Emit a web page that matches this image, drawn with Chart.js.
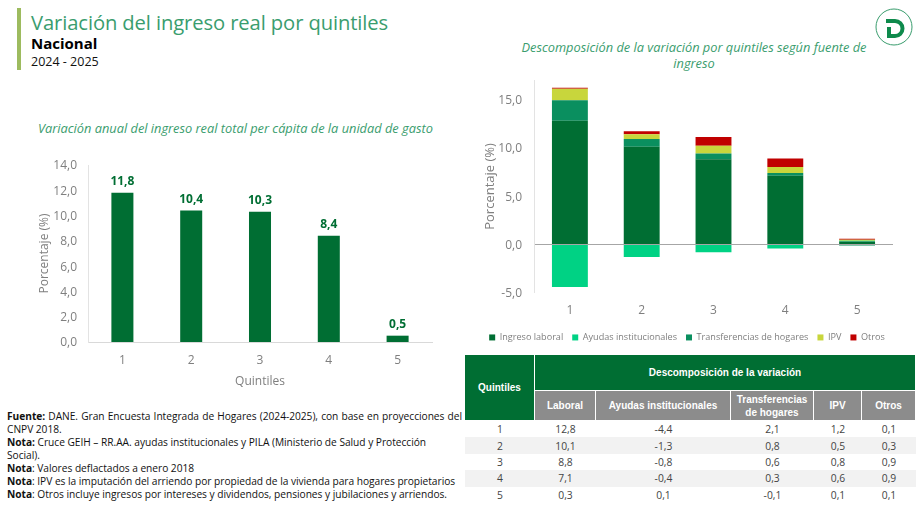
<!DOCTYPE html>
<html lang="es">
<head>
<meta charset="utf-8">
<title>Variación del ingreso real por quintiles</title>
<script src="https://cdn.jsdelivr.net/npm/chart.js@4"></script>
<style>
html, body { margin: 0; padding: 0; background: #fff; }
body { width: 921px; height: 511px; position: relative; overflow: hidden; font-family: "Open Sans", sans-serif; }
.abs { position: absolute; white-space: nowrap; }
canvas { position: absolute; }
#bar { left: 17px; top: 8px; width: 4px; height: 62px; background: #9dbb5f; }
#title { left: 31px; top: 8px; font-size: 20.2px; line-height: 28px; color: #3a9d6e; letter-spacing: -0.1px; }
#sub { left: 31px; top: 33px; font-size: 15px; line-height: 20px; font-weight: 700; color: #000; }
#years { left: 31px; top: 53px; font-size: 12.5px; line-height: 17px; color: #111; }
.ctitle { font-style: italic; color: #3a9d6e; font-size: 12.8px; line-height: 16px; text-align: center; }
#t1 { left: 38px; top: 120px; }
#t2 { left: 505px; top: 39px; width: 378px; white-space: normal; }
#logo { left: 875px; top: 8px; }
#notes { position: absolute; left: 7px; top: 410px; width: 455px; font-size: 10.2px; line-height: 12.95px; color: #111; white-space: nowrap; letter-spacing: -0.03px; }
#notes .j { text-align: justify; text-align-last: justify; }
table { position: absolute; left: 465px; top: 355px; width: 451px; border-collapse: separate; border-spacing: 0; table-layout: fixed; font-size: 10.3px; }
th { font-family: "Liberation Sans", sans-serif; font-weight: 700; color: #fff; font-size: 10px; padding: 0; border: 1px solid #fff; border-top: 0; border-left: 0; }
th.top { background: #006e33; height: 35px; }
th.sub { background: #8c8c8c; height: 29px; line-height: 13px; }
td { text-align: center; color: #444; height: 16.4px; padding: 0; line-height: 16px; }
tr.z td { background: #f2f2f2; }
</style>
</head>
<body>
<div id="bar" class="abs"></div>
<div id="title" class="abs">Variación del ingreso real por quintiles</div>
<div id="sub" class="abs">Nacional</div>
<div id="years" class="abs">2024 - 2025</div>
<svg id="logo" class="abs" width="38" height="38" viewBox="0 0 38 38">
  <circle cx="19" cy="19" r="18" fill="#fff" stroke="#3a9d6e" stroke-width="1"/>
  <path d="M11 13 H20 a7 7 0 0 1 0 15 H14 V19" fill="none" stroke="#0e8a4c" stroke-width="4"/>
</svg>
<div id="t1" class="abs ctitle">Variación anual del ingreso real total per cápita de la unidad de gasto</div>
<div id="t2" class="abs ctitle">Descomposición de la variación por quintiles según fuente de<br>ingreso</div>
<canvas id="chartTotal" width="425" height="243" style="left:20px;top:150px;width:425px;height:243px"></canvas>
<canvas id="chartParts" width="434" height="280" style="left:470px;top:72px;width:434px;height:280px"></canvas>
<table id="tabla">
  <colgroup><col style="width:70px"><col style="width:61px"><col style="width:135px"><col style="width:83px"><col style="width:48px"><col style="width:54px"></colgroup>
  <thead id="tablaHead"></thead>
  <tbody id="tablaBody"></tbody>
</table>
<div id="notes">
  <div class="j"><b>Fuente:</b> DANE. Gran Encuesta Integrada de Hogares (2024-2025), con base en proyecciones del</div>
  <div>CNPV 2018.</div>
  <div><b>Nota:</b> Cruce GEIH – RR.AA. ayudas institucionales y PILA (Ministerio de Salud y Protección</div>
  <div>Social).</div>
  <div><b>Nota</b>: Valores deflactados a enero 2018</div>
  <div><b>Nota</b>: IPV es la imputación del arriendo por propiedad de la vivienda para hogares propietarios</div>
  <div><b>Nota</b>: Otros incluye ingresos por intereses y dividendos, pensiones y jubilaciones y arriendos.</div>
</div>
<script>
const quintiles = ["1", "2", "3", "4", "5"];
const totalValues = [11.8, 10.4, 10.3, 8.4, 0.5];
const laboral = [12.8, 10.1, 8.8, 7.1, 0.3];
const ayudas = [-4.4, -1.3, -0.8, -0.4, 0.1];
const transferencias = [2.1, 0.8, 0.6, 0.3, -0.1];
const ipv = [1.2, 0.5, 0.8, 0.6, 0.1];
const otros = [0.1, 0.3, 0.9, 0.9, 0.1];
const partsTicks = [-5, 0, 5, 10, 15];

const FONT = '"Open Sans", sans-serif';
const GREY = "#7f7f7f";
const DARK_GREEN = "#006e33";

function comma(v) {
    return v.toFixed(1).replace(".", ",");
}

// fixed width for the y axis, and no extra room for its labels at the ends
function fitYAxis(scale, width) {
    scale.width = width;
    scale.paddingTop = 0;
    scale.paddingBottom = 0;
}

// the only plugin available offline, draws the value above each bar
const valueLabels = {
    id: "valueLabels",
    afterDatasetsDraw(chart) {
        const ctx = chart.ctx;
        const meta = chart.getDatasetMeta(0);
        ctx.save();
        ctx.font = "700 12px " + FONT;
        ctx.fillStyle = DARK_GREEN;
        ctx.textAlign = "center";
        meta.data.forEach((bar, i) => {
            ctx.fillText(comma(totalValues[i]), bar.x, bar.y - 8);
        });
        ctx.restore();
    }
};

new Chart(document.getElementById("chartTotal"), {
    type: "bar",
    data: {
        labels: quintiles,
        datasets: [{ data: totalValues, backgroundColor: DARK_GREEN, barPercentage: 0.32, categoryPercentage: 1 }]
    },
    options: {
        responsive: false,
        animation: false,
        layout: { padding: { top: 15, right: 13, left: 0, bottom: 0 } },
        plugins: { legend: { display: false }, tooltip: { enabled: false } },
        scales: {
            x: {
                afterFit: s => { s.height = 51; },
                grid: { display: false, drawTicks: false },
                border: { color: "#d9d9d9" },
                ticks: { color: GREY, font: { family: FONT, size: 12 }, padding: 11 },
                title: { display: true, text: "Quintiles", color: GREY, font: { family: FONT, size: 12 }, padding: { top: 2 } }
            },
            y: {
                min: 0, max: 14,
                afterFit: s => fitYAxis(s, 68),
                grid: { display: false, drawTicks: false },
                border: { color: "#e3e3e3" },
                ticks: { stepSize: 2, color: GREY, font: { family: FONT, size: 12 }, padding: 11, labelOffset: 1, callback: v => comma(v) },
                title: { display: true, text: "Porcentaje (%)", color: GREY, font: { family: FONT, size: 12 }, padding: { top: 17 } }
            }
        }
    },
    plugins: [valueLabels]
});

const partSeries = [
    ["Ingreso laboral", laboral, "#006e33"],
    ["Ayudas institucionales", ayudas, "#00d284"],
    ["Transferencias de hogares", transferencias, "#0a8f5f"],
    ["IPV", ipv, "#c8d63c"],
    ["Otros", otros, "#c00000"]
];

new Chart(document.getElementById("chartParts"), {
    type: "bar",
    data: {
        labels: quintiles,
        datasets: partSeries.map(s => ({
            label: s[0], data: s[1], backgroundColor: s[2], barPercentage: 0.5, categoryPercentage: 1
        }))
    },
    options: {
        responsive: false,
        animation: false,
        layout: { padding: { top: 8, right: 0, left: 0, bottom: 0 } },
        plugins: {
            tooltip: { enabled: false },
            legend: {
                position: "bottom",
                labels: { boxWidth: 6, boxHeight: 6, padding: 9, color: GREY, font: { family: FONT, size: 9.1 } }
            }
        },
        scales: {
            x: {
                stacked: true,
                // right gap on the axis, not the layout, so the legend stays centred on the canvas
                afterFit: s => { s.height = 31; s.paddingRight = 11; },
                grid: { display: false, drawTicks: false },
                border: { display: false },
                ticks: { color: GREY, font: { family: FONT, size: 12 }, padding: 10 }
            },
            y: {
                stacked: true,
                min: -5, max: 17,
                afterFit: s => fitYAxis(s, 64),
                afterBuildTicks: s => { s.ticks = partsTicks.map(v => ({ value: v })); },
                grid: {
                    drawTicks: false,
                    color: c => (c.tick && c.tick.value === 0 ? "#a6a6a6" : "transparent")
                },
                border: { color: "#e3e3e3" },
                ticks: { color: GREY, font: { family: FONT, size: 12 }, padding: 12, labelOffset: 1, callback: v => comma(v) },
                title: { display: true, text: "Porcentaje (%)", color: GREY, font: { family: FONT, size: 13 }, padding: { top: 12 } }
            }
        }
    }
});

// tabla
const tablaHeaders = ["Laboral", "Ayudas institucionales", "Transferencias<br>de hogares", "IPV", "Otros"];
document.getElementById("tablaHead").innerHTML =
    '<tr><th class="top" rowspan="2">Quintiles</th><th class="top" colspan="5">Descomposición de la variación</th></tr>' +
    "<tr>" + tablaHeaders.map(h => '<th class="sub">' + h + "</th>").join("") + "</tr>";
document.getElementById("tablaBody").innerHTML = quintiles.map((q, i) => {
    const cells = [laboral, ayudas, transferencias, ipv, otros].map(a => "<td>" + comma(a[i]) + "</td>").join("");
    return '<tr class="' + (i % 2 ? "z" : "") + '"><td>' + q + "</td>" + cells + "</tr>";
}).join("");
</script>
</body>
</html>
